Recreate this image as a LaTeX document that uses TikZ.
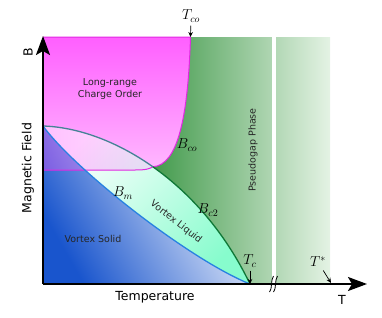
\documentclass[tikz,border=0pt]{standalone}
\usepackage{fontspec}
\usetikzlibrary{arrows.meta}
\newfontfamily\labelfont{DejaVu Sans}

\definecolor{chargeTop}{RGB}{255,95,255}
\definecolor{chargeBot}{RGB}{255,185,255}
\definecolor{chargeLine}{RGB}{225,40,225}
\definecolor{pgDark}{RGB}{55,148,65}
\definecolor{pgLight}{RGB}{228,243,228}
\definecolor{liquidC}{RGB}{135,252,205}
\definecolor{solidC}{RGB}{25,85,205}
\definecolor{bmLine}{RGB}{40,130,225}
\definecolor{bcLine}{RGB}{15,120,55}
\definecolor{tealLine}{RGB}{70,130,150}

\begin{document}
\begin{tikzpicture}[x=1pt,y=1pt,
		lbl/.style={font=\labelfont\fontsize{9.5}{12}\selectfont, text=black!85},
		axlbl/.style={font=\labelfont\fontsize{12.5}{15}\selectfont},
		mlbl/.style={font=\fontsize{14}{16}\selectfont},
		pointer/.style={-{Stealth[length=5pt,width=4.5pt]}, line width=0.7pt},
		axis/.style={line width=2pt, -{Stealth[length=19pt,width=14pt,inset=4pt]}}]
				
				\useasboundingbox (0,0) rectangle (382,317);
				
				% --- Axes ---
				\coordinate (O)    at (43,33);
				\coordinate (Bend) at (43,281);
				\coordinate (Tend) at (367,33);
				
				% --- Phase boundaries ---
				\coordinate (A)   at (43,191);    % B_c2 and B_m meet the field axis
				\coordinate (C)   at (152.9,150.2); % corner of the charge order
				\coordinate (Tc)  at (250,33);
				\coordinate (Tco) at (190.5,280);
				\coordinate (Tst) at (331,34);
				
				% --- Pseudogap background ---
				\shade[left color=pgDark, right color=pgLight] (140,33) rectangle (330,280);
				\fill[white] (271.5,33) rectangle (275.5,280);
				
				% --- Charge order (opaque part) ---
				\shade[top color=chargeTop, bottom color=chargeBot]
					(43,280) -- (Tco) .. controls (188,200) and (178,152) .. (C)
					.. controls (149,148) and (146,147) .. (135,147) -- (43,147) -- cycle;
				
				% --- Vortex liquid ---
				\shade[top color=white, bottom color=liquidC, shading angle=45]
					(A) .. controls (110,189) and (200,137) .. (Tc)
					.. controls (190,57) and (75,147) .. (A) -- cycle;
				
				% --- Vortex solid ---
				\shade[top color=white, bottom color=solidC, shading angle=-60]
					(A) .. controls (75,147) and (190,57) .. (Tc) -- (O) -- cycle;
				
				% --- Charge order over the vortex states ---
				\begin{scope}
					\clip (43,280) -- (Tco) .. controls (188,200) and (178,152) .. (C)
					.. controls (149,148) and (146,147) .. (135,147) -- (43,147) -- cycle;
					\shade[left color=magenta!70, right color=white, opacity=0.35]
					(A) .. controls (110,189) and (200,137) .. (Tc) -- (O) -- cycle;
				\end{scope}
				
				% --- Lines ---
				\draw[chargeLine, line width=1pt]
					(43,280) -- (Tco) .. controls (188,200) and (178,152) .. (C)
					.. controls (149,148) and (146,147) .. (135,147) -- (43,147);
				\draw[tealLine, line width=1.3pt] (A) .. controls (76.5,190) and (115.75,176.5) .. (C);
				\draw[bcLine, line width=1.3pt] (C) .. controls (190,124) and (225,85) .. (Tc);
				\draw[bmLine, line width=1.3pt] (A) .. controls (75,147) and (190,57) .. (Tc);
				
				\draw[axis] (O) -- (Bend);
				\draw[axis] (O) -- (Tend);
				
				% axis break
				\draw[line width=0.8pt] (269.5,25) .. controls (272.5,28) and (270.5,37) .. (273.5,41);
				\draw[line width=0.8pt] (273.5,25) .. controls (276.5,28) and (274.5,37) .. (277.5,41);
				
				% --- Labels ---
				\node[lbl, align=center] (lro) at (110,228) {Long-range\\Charge Order};
				\node[lbl] (vs) at (93,78) {Vortex Solid};
				\node[lbl, rotate=-38] (vl) at (176,95) {Vortex Liquid};
				\node[lbl, rotate=90] (pg) at (253,167) {Pseudogap Phase};
				
				\node[axlbl, rotate=90] (mf) at (28,149) {Magnetic Field};
				\node[axlbl, rotate=90] (bl) at (28,265) {B};
				\node[axlbl] (temp) at (155,20) {Temperature};
				\node[axlbl] (tl) at (342,17) {T};
				
				\node[mlbl] (bco) at (187,172) {$B_{co}$};
				\node[mlbl] (bm)  at (123,124) {$B_m$};
				\node[mlbl] (bc2) at (208,107) {$B_{c2}$};
				\node[mlbl] (tcoL) at (191,301) {$T_{co}$};
				\node[mlbl] (tcL) at (250,56) {$T_c$};
				\node[mlbl] (tsL) at (318,55) {$T^{*}$};
				
				% --- Pointers ---
				\draw[pointer] (tcoL) -- (Tco);
				\draw[pointer] (tcL) -- (Tc);
				\draw[pointer] (tsL) -- (Tst);
				
			\end{tikzpicture}
\end{document}
